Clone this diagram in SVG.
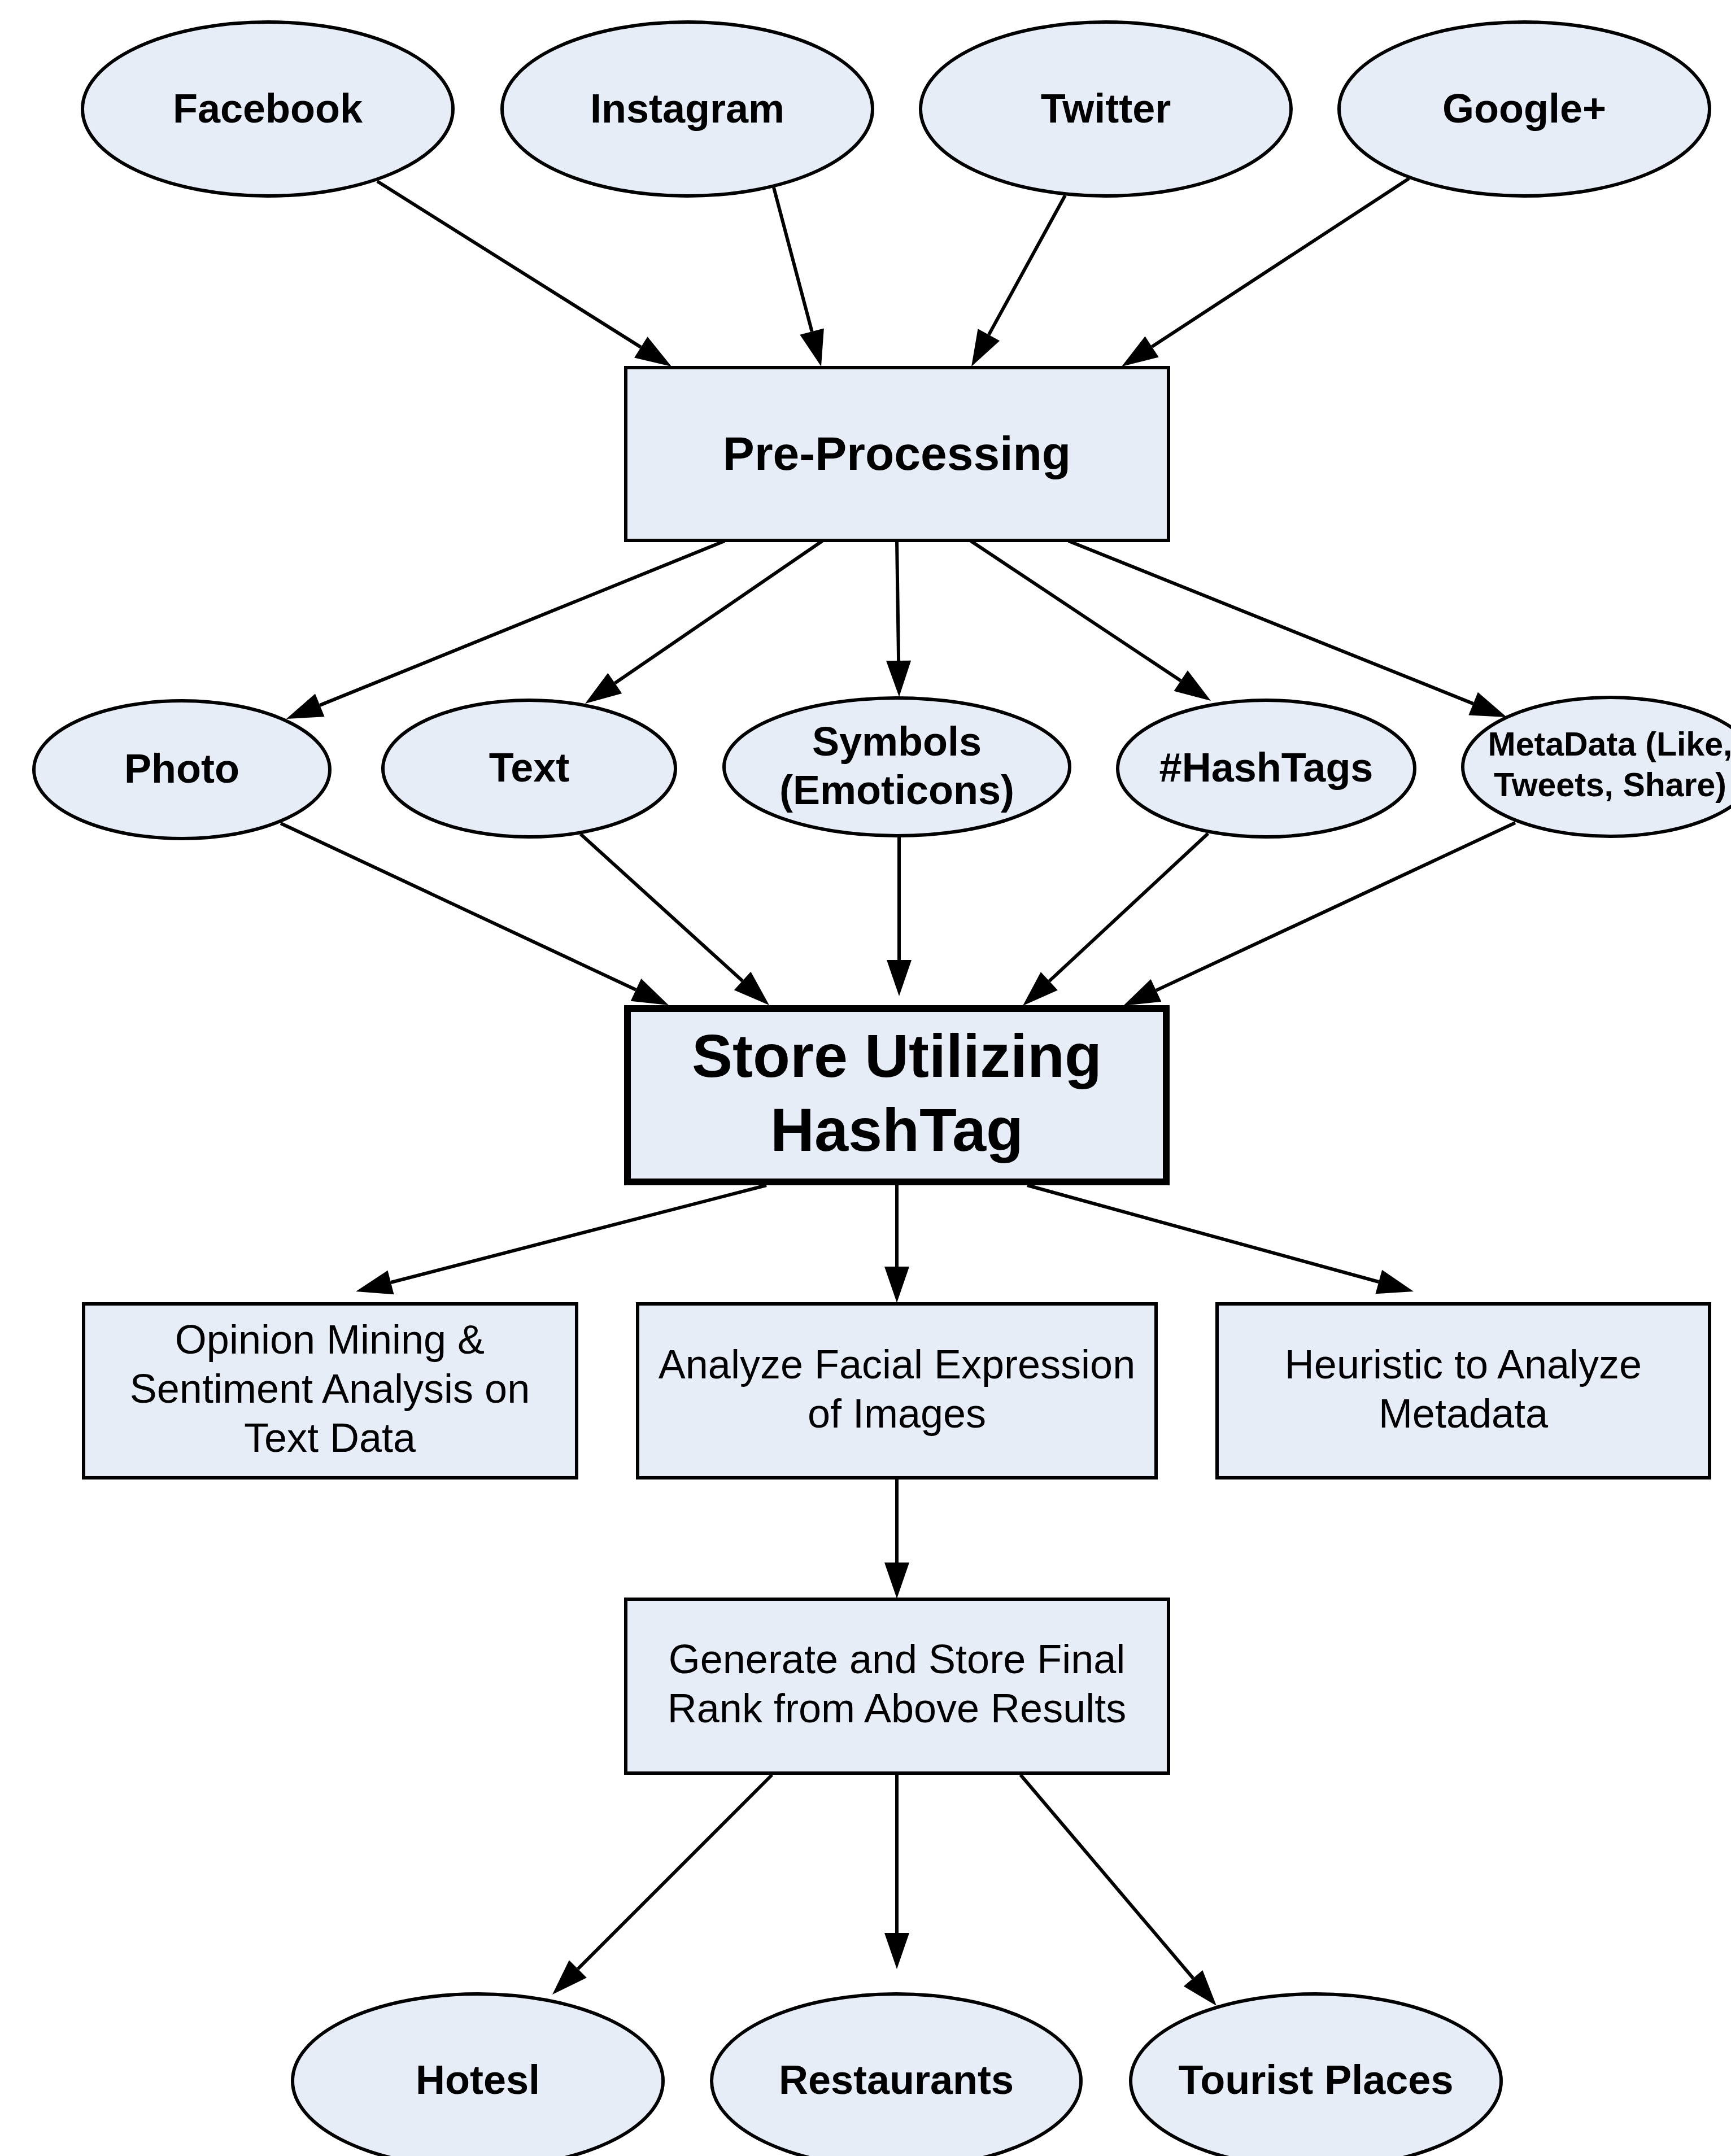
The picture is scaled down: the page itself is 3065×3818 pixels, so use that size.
<svg xmlns="http://www.w3.org/2000/svg" width="3065" height="3818" viewBox="0 0 3065 3818">
<style>
.n{fill:#E6EDF7;stroke:#000;stroke-width:6}
.thick{stroke-width:12}
.b{font-family:"Liberation Sans",Arial,sans-serif;font-weight:bold;font-size:72px;text-anchor:middle;fill:#000}
.r{font-family:"Liberation Sans",Arial,sans-serif;font-size:72px;text-anchor:middle;fill:#000}
.c line{stroke:#000;stroke-width:6;marker-end:url(#ah)}
</style>
<defs>
<marker id="ah" markerUnits="userSpaceOnUse" markerWidth="64" markerHeight="44" refX="0" refY="22" orient="auto" overflow="visible">
<path d="M0,0 L64,22 L0,44 z" fill="#000"/>
</marker>
</defs>
<rect width="3065" height="3818" fill="#fff"/>
<g id="connectors" class="c">
<line x1="668" y1="321" x2="1134.8" y2="614.9"/>
<line x1="1370" y1="332" x2="1437.6" y2="587.1"/>
<line x1="1886" y1="346" x2="1750.8" y2="592.9"/>
<line x1="2495" y1="316" x2="2039.6" y2="614"/>
<line x1="1283" y1="958" x2="566.3" y2="1248.9"/>
<line x1="1456" y1="958" x2="1088.8" y2="1209.8"/>
<line x1="1588" y1="958" x2="1591.1" y2="1170"/>
<line x1="1719" y1="958" x2="2090.7" y2="1205.5"/>
<line x1="1892" y1="958" x2="2608.6" y2="1246.1"/>
<line x1="497" y1="1458" x2="1126" y2="1752.8"/>
<line x1="1028" y1="1477" x2="1314.6" y2="1737"/>
<line x1="1592" y1="1481" x2="1592" y2="1700"/>
<line x1="2139" y1="1476" x2="1857.9" y2="1737.4"/>
<line x1="2683" y1="1457" x2="2047" y2="1753.9"/>
<line x1="1357" y1="2099" x2="692" y2="2271"/>
<line x1="1588" y1="2099" x2="1588" y2="2243"/>
<line x1="1819" y1="2099" x2="2441.3" y2="2270"/>
<line x1="1588" y1="2617" x2="1588" y2="2767"/>
<line x1="1367" y1="3143" x2="1023.3" y2="3486.7"/>
<line x1="1588" y1="3143" x2="1588" y2="3423"/>
<line x1="1807" y1="3143" x2="2112.6" y2="3503.2"/>
</g>
<g id="facebook"><ellipse class="n" cx="474" cy="193" rx="328" ry="154"/><text class="b" x="474" y="217">Facebook</text></g>
<g id="instagram"><ellipse class="n" cx="1217" cy="193" rx="328" ry="154"/><text class="b" x="1217" y="217">Instagram</text></g>
<g id="twitter"><ellipse class="n" cx="1958" cy="193" rx="328" ry="154"/><text class="b" x="1958" y="217">Twitter</text></g>
<g id="googleplus"><ellipse class="n" cx="2699" cy="193" rx="328" ry="154"/><text class="b" x="2699" y="217">Google+</text></g>
<g id="preprocessing"><rect class="n" x="1108" y="651" width="961" height="306"/><text class="b" x="1588" y="832" style="font-size:84px">Pre-Processing</text></g>
<g id="photo"><ellipse class="n" cx="322" cy="1363" rx="262" ry="122"/><text class="b" x="322" y="1386">Photo</text></g>
<g id="text"><ellipse class="n" cx="937" cy="1361" rx="259" ry="121"/><text class="b" x="937" y="1384">Text</text></g>
<g id="symbols"><ellipse class="n" cx="1588" cy="1358" rx="306" ry="122"/><text class="b" x="1588" y="1338">Symbols</text><text class="b" x="1588" y="1424">(Emoticons)</text></g>
<g id="hashtags"><ellipse class="n" cx="2242" cy="1361" rx="263" ry="121"/><text class="b" x="2242" y="1384">#HashTags</text></g>
<g id="metadata"><ellipse class="n" cx="2851" cy="1358" rx="261" ry="123"/><text class="b" x="2851" y="1338" style="font-size:59px">MetaData (Like,</text><text class="b" x="2851" y="1410" style="font-size:59px">Tweets, Share)</text></g>
<g id="store"><rect class="n thick" x="1111" y="1786" width="954" height="307"/><text class="b" x="1588" y="1907" style="font-size:108px">Store Utilizing</text><text class="b" x="1588" y="2038" style="font-size:108px">HashTag</text></g>
<g id="opinion"><rect class="n" x="148" y="2309" width="873" height="308"/><text class="r" x="584" y="2397">Opinion Mining &amp;</text><text class="r" x="584" y="2484">Sentiment Analysis on</text><text class="r" x="584" y="2571">Text Data</text></g>
<g id="analyze"><rect class="n" x="1129" y="2309" width="918" height="308"/><text class="r" x="1588" y="2441">Analyze Facial Expression</text><text class="r" x="1588" y="2528">of Images</text></g>
<g id="heuristic"><rect class="n" x="2155" y="2309" width="872" height="308"/><text class="r" x="2591" y="2441">Heuristic to Analyze</text><text class="r" x="2591" y="2528">Metadata</text></g>
<g id="generate"><rect class="n" x="1108" y="2832" width="961" height="308"/><text class="r" x="1588" y="2963">Generate and Store Final</text><text class="r" x="1588" y="3050">Rank from Above Results</text></g>
<g id="hotels"><ellipse class="n" cx="846" cy="3685" rx="328" ry="154"/><text class="b" x="846" y="3708">Hotesl</text></g>
<g id="restaurants"><ellipse class="n" cx="1587" cy="3685" rx="327" ry="154"/><text class="b" x="1587" y="3708">Restaurants</text></g>
<g id="tourist"><ellipse class="n" cx="2330" cy="3685" rx="328" ry="154"/><text class="b" x="2330" y="3708">Tourist Places</text></g>
</svg>
